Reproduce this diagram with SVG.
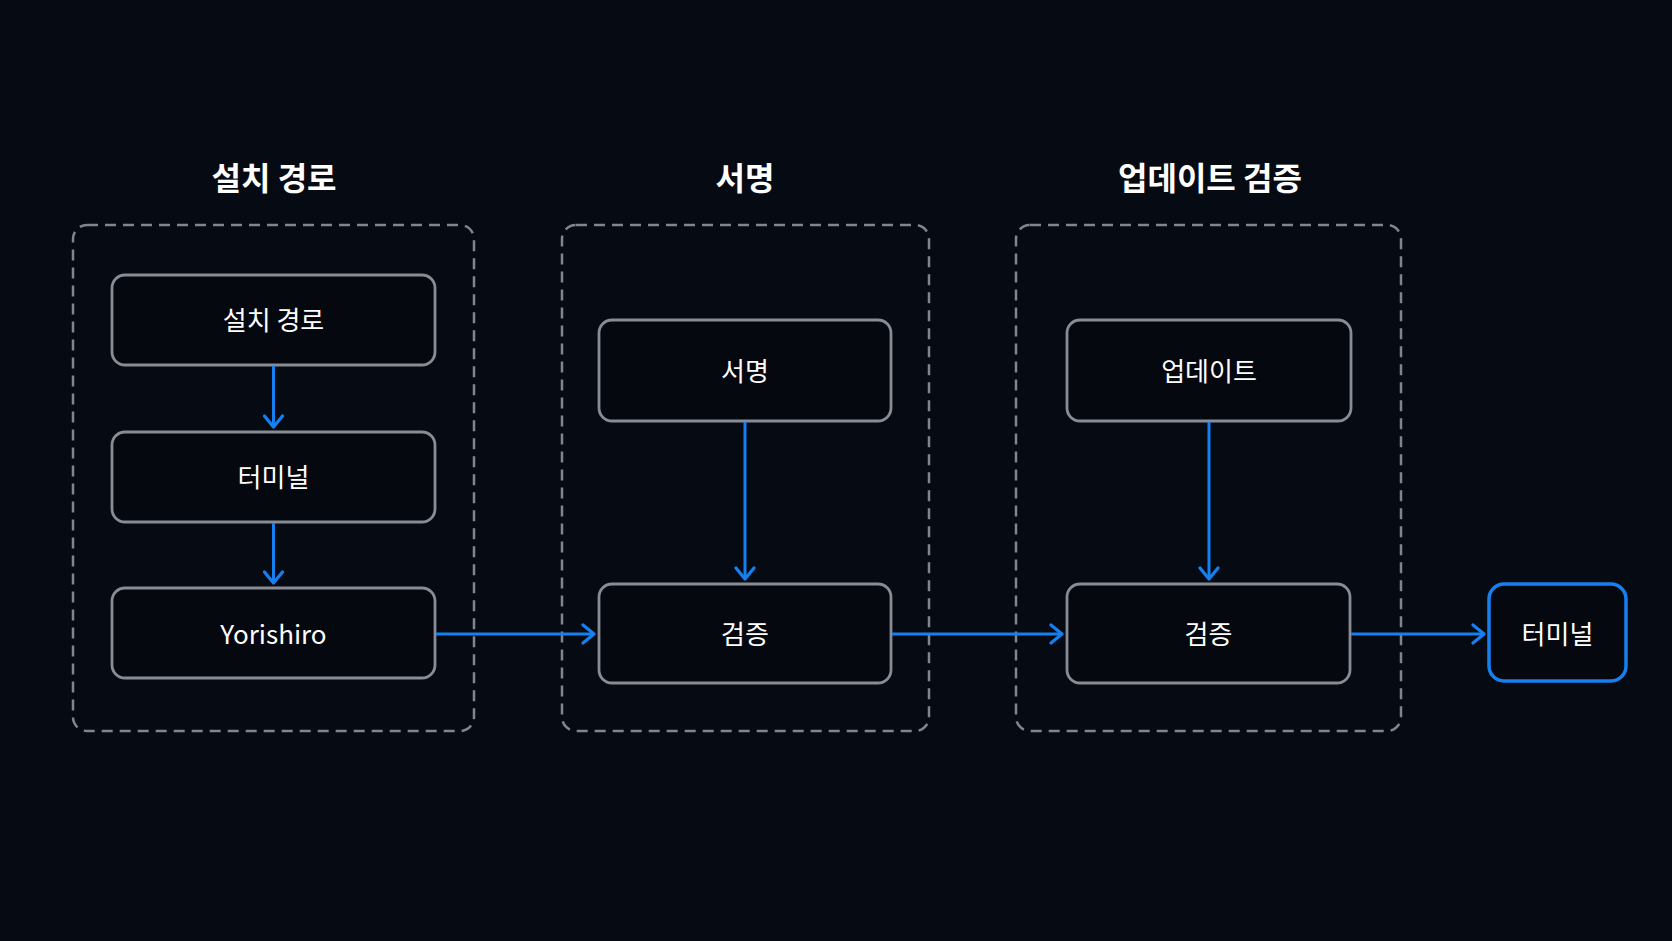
<svg xmlns="http://www.w3.org/2000/svg" width="1672" height="941" viewBox="0 0 1672 941">
<defs>
<style>
.bg{fill:#060a13}
.cluster{fill:none;stroke:#80858e;stroke-width:2.5;stroke-dasharray:11 7}
.node rect{fill:#05080f;stroke:#878c95;stroke-width:2.8}
.node.hl rect{stroke:#1680f0;stroke-width:3.5}
.title{font-family:"Noto Sans CJK KR","Noto Sans",sans-serif;font-weight:700;font-size:32px;fill:#ffffff;text-anchor:middle;dominant-baseline:central}
.label{font-family:"Noto Sans CJK KR","Noto Sans",sans-serif;font-size:26px;fill:#ffffff;text-anchor:middle;dominant-baseline:central}
.edge{fill:none;stroke:#1680f0;stroke-width:3}
</style>
<marker id="arr" viewBox="0 0 16 22" refX="13" refY="11" markerWidth="16" markerHeight="22" markerUnits="userSpaceOnUse" orient="auto">
<path d="M2,2 L13,11 L2,20" fill="none" stroke="#1680f0" stroke-width="3.2" stroke-linecap="round" stroke-linejoin="round"/>
</marker>
</defs>
<rect class="bg" x="0" y="0" width="1672" height="941"/>

<g id="cluster-install">
<rect class="cluster" x="73" y="225" width="401" height="506" rx="14"/>
<text class="title" x="274" y="176">설치 경로</text>
</g>
<g id="cluster-sign">
<rect class="cluster" x="562" y="225" width="367" height="506" rx="14"/>
<text class="title" x="745" y="176">서명</text>
</g>
<g id="cluster-update">
<rect class="cluster" x="1016" y="225" width="385" height="506" rx="14"/>
<text class="title" x="1210" y="176">업데이트 검증</text>
</g>

<g id="n-install" class="node">
<rect x="112" y="275" width="323" height="90" rx="13"/>
<text class="label" x="273.5" y="318">설치 경로</text>
</g>
<g id="n-terminal1" class="node">
<rect x="112" y="432" width="323" height="90" rx="13"/>
<text class="label" x="273.5" y="475">터미널</text>
</g>
<g id="n-yorishiro" class="node">
<rect x="112" y="588" width="323" height="90" rx="13"/>
<text class="label" x="273.5" y="632">Yorishiro</text>
</g>
<g id="n-sign" class="node">
<rect x="599" y="320" width="292" height="101" rx="13"/>
<text class="label" x="745" y="369">서명</text>
</g>
<g id="n-verify1" class="node">
<rect x="599" y="584" width="292" height="99" rx="13"/>
<text class="label" x="745" y="632">검증</text>
</g>
<g id="n-update" class="node">
<rect x="1067" y="320" width="284" height="101" rx="13"/>
<text class="label" x="1209" y="369">업데이트</text>
</g>
<g id="n-verify2" class="node">
<rect x="1067" y="584" width="283" height="99" rx="13"/>
<text class="label" x="1208.5" y="632">검증</text>
</g>
<g id="n-terminal2" class="node hl">
<rect x="1489" y="584" width="137" height="97" rx="15"/>
<text class="label" x="1557.5" y="632">터미널</text>
</g>

<g id="connectors">
<line class="edge" x1="273.5" y1="366" x2="273.5" y2="427" marker-end="url(#arr)"/>
<line class="edge" x1="273.5" y1="523" x2="273.5" y2="583" marker-end="url(#arr)"/>
<line class="edge" x1="745" y1="422" x2="745" y2="579" marker-end="url(#arr)"/>
<line class="edge" x1="1209" y1="422" x2="1209" y2="579" marker-end="url(#arr)"/>
<line class="edge" x1="436" y1="634" x2="594" y2="634" marker-end="url(#arr)"/>
<line class="edge" x1="892" y1="634" x2="1062" y2="634" marker-end="url(#arr)"/>
<line class="edge" x1="1351" y1="634" x2="1484" y2="634" marker-end="url(#arr)"/>
</g>
</svg>
